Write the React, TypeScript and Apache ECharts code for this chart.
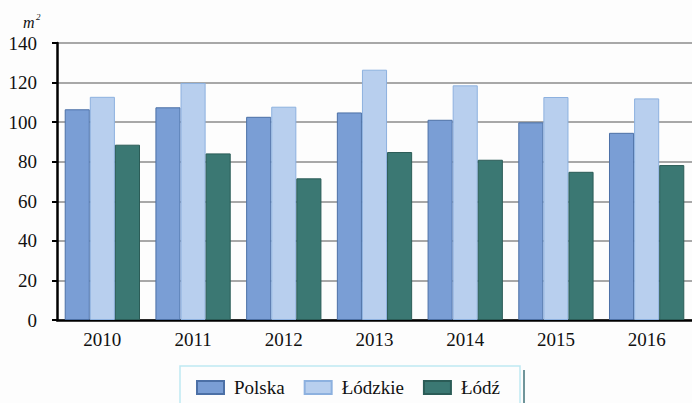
import React, { useEffect, useRef } from "react";
import * as echarts from "echarts";

const years = ["2010", "2011", "2012", "2013", "2014", "2015", "2016"];
const polska = [106.5, 107.5, 102.7, 104.9, 101.2, 99.9, 94.6];
const lodzkie = [112.8, 119.8, 107.8, 126.5, 118.6, 112.7, 112.0];
const lodz = [88.6, 84.2, 71.6, 84.9, 81.0, 74.9, 78.3];
const seriesNames = ["Polska", "Łódzkie", "Łódź"];
const yTicks = { min: 0, max: 140, interval: 20 };

const FONT = "Liberation Serif";

export default function App() {
  const ref = useRef<HTMLDivElement>(null);
  useEffect(() => {
    if (!ref.current) return;
    const chart = echarts.init(ref.current, null, { renderer: "svg" });
    const fills = ["#7a9ed5", "#b8cfee", "#3b7873"];
    const borders = ["#4c70a6", "#8db1df", "#2b5c57"];
    const data = [polska, lodzkie, lodz];
    chart.setOption({
      animation: false,
      backgroundColor: "#fdfdfd",
      textStyle: { fontFamily: FONT },
      grid: { left: 57, right: -5, top: 43, bottom: 83, containLabel: false },
      legend: {
        left: 196,
        top: 377,
        padding: 0,
        icon: "rect",
        itemWidth: 27,
        itemHeight: 13,
        itemGap: 19,
        textStyle: { fontFamily: FONT, fontSize: 19, lineHeight: 21, color: "#111", padding: [0, 0, 0, 5] },
        data: seriesNames,
      },
      xAxis: {
        type: "category",
        data: years,
        axisLine: { lineStyle: { color: "#000", width: 2.5 } },
        axisTick: { show: false },
        axisLabel: { fontFamily: FONT, fontSize: 19, color: "#111", margin: 10 },
      },
      yAxis: {
        type: "value",
        min: yTicks.min,
        max: yTicks.max,
        interval: yTicks.interval,
        axisLine: { show: true, lineStyle: { color: "#000", width: 2.5 } },
        axisTick: { show: true, length: 5, lineStyle: { color: "#000", width: 2 } },
        axisLabel: { fontFamily: FONT, fontSize: 19, color: "#111", margin: 20 },
        splitLine: { lineStyle: { color: "#a8a8a8", width: 2 } },
      },
      graphic: [
        {
          type: "text",
          left: 23,
          top: 14,
          style: { text: "m", fontFamily: FONT, fontStyle: "italic", fontSize: 16, fill: "#111" },
        },
        {
          type: "text",
          left: 36,
          top: 12,
          style: { text: "2", fontFamily: FONT, fontStyle: "italic", fontSize: 9, fill: "#111" },
        },
        {
          type: "rect",
          shape: { x: 180, y: 366, width: 340, height: 60 },
          style: { fill: "none", stroke: "#bfe9f2", lineWidth: 1.5 },
        },
        {
          type: "line",
          shape: { x1: 524, y1: 370, x2: 524, y2: 403 },
          style: { stroke: "#3f7278", lineWidth: 1.5 },
        },
      ],
      series: seriesNames.map((name, i) => ({
        name,
        type: "bar",
        data: data[i],
        barGap: "0%",
        barCategoryGap: "17%",
        itemStyle: { color: fills[i], borderColor: borders[i], borderWidth: 1 },
      })),
    });
    return () => chart.dispose();
  }, []);
  return <div ref={ref} style={{ position: "fixed", left: 0, top: 0, width: 692, height: 403 }} />;
}
